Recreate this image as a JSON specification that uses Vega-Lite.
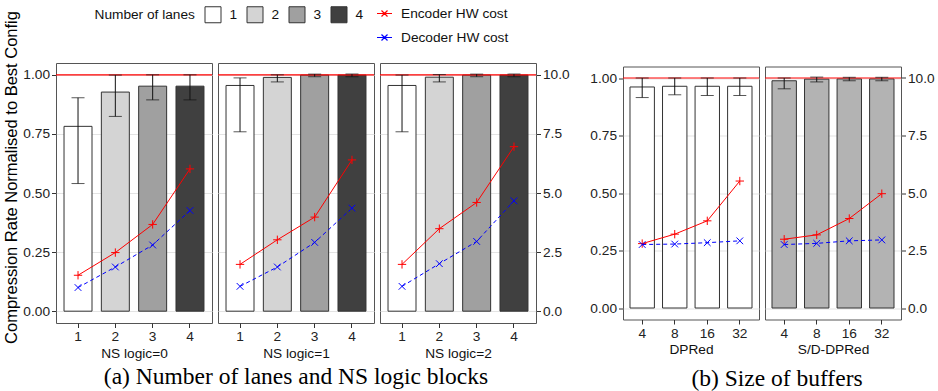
{
"$schema": "https://vega.github.io/schema/vega-lite/v6.json",
"padding": {"left": 3, "top": 5, "right": 0, "bottom": 0},
"bounds": "flush",
"center": true,
"spacing": 6,
"datasets": {
"bars": [
{"panel":"NS0","x":"1","rate":0.782,"lo":0.54,"hi":0.903},
{"panel":"NS0","x":"2","rate":0.927,"lo":0.824,"hi":0.999},
{"panel":"NS0","x":"3","rate":0.952,"lo":0.894,"hi":1.0},
{"panel":"NS0","x":"4","rate":0.952,"lo":0.894,"hi":1.0},
{"panel":"NS1","x":"1","rate":0.955,"lo":0.759,"hi":0.987},
{"panel":"NS1","x":"2","rate":0.989,"lo":0.97,"hi":1.0},
{"panel":"NS1","x":"3","rate":0.999,"lo":0.992,"hi":1.003},
{"panel":"NS1","x":"4","rate":0.999,"lo":0.992,"hi":1.003},
{"panel":"NS2","x":"1","rate":0.955,"lo":0.759,"hi":0.999},
{"panel":"NS2","x":"2","rate":0.99,"lo":0.97,"hi":1.001},
{"panel":"NS2","x":"3","rate":0.999,"lo":0.992,"hi":1.003},
{"panel":"NS2","x":"4","rate":0.999,"lo":0.992,"hi":1.003},
{"panel":"DPRed","x":"4","rate":0.961,"lo":0.915,"hi":1.0},
{"panel":"DPRed","x":"8","rate":0.964,"lo":0.927,"hi":1.0},
{"panel":"DPRed","x":"16","rate":0.964,"lo":0.924,"hi":1.0},
{"panel":"DPRed","x":"32","rate":0.964,"lo":0.924,"hi":1.0},
{"panel":"SD","x":"4","rate":0.988,"lo":0.953,"hi":1.0},
{"panel":"SD","x":"8","rate":0.995,"lo":0.983,"hi":1.004},
{"panel":"SD","x":"16","rate":0.996,"lo":0.988,"hi":1.003},
{"panel":"SD","x":"32","rate":0.996,"lo":0.988,"hi":1.003}
],
"cost": [
{"panel":"NS0","x":"1","series":"Encoder HW cost","cost":1.52},
{"panel":"NS0","x":"2","series":"Encoder HW cost","cost":2.48},
{"panel":"NS0","x":"3","series":"Encoder HW cost","cost":3.67},
{"panel":"NS0","x":"4","series":"Encoder HW cost","cost":6.02},
{"panel":"NS0","x":"1","series":"Decoder HW cost","cost":1.0},
{"panel":"NS0","x":"2","series":"Decoder HW cost","cost":1.87},
{"panel":"NS0","x":"3","series":"Decoder HW cost","cost":2.8},
{"panel":"NS0","x":"4","series":"Decoder HW cost","cost":4.26},
{"panel":"NS1","x":"1","series":"Encoder HW cost","cost":1.98},
{"panel":"NS1","x":"2","series":"Encoder HW cost","cost":3.02},
{"panel":"NS1","x":"3","series":"Encoder HW cost","cost":3.98},
{"panel":"NS1","x":"4","series":"Encoder HW cost","cost":6.4},
{"panel":"NS1","x":"1","series":"Decoder HW cost","cost":1.05},
{"panel":"NS1","x":"2","series":"Decoder HW cost","cost":1.87},
{"panel":"NS1","x":"3","series":"Decoder HW cost","cost":2.91},
{"panel":"NS1","x":"4","series":"Decoder HW cost","cost":4.36},
{"panel":"NS2","x":"1","series":"Encoder HW cost","cost":1.98},
{"panel":"NS2","x":"2","series":"Encoder HW cost","cost":3.49},
{"panel":"NS2","x":"3","series":"Encoder HW cost","cost":4.6},
{"panel":"NS2","x":"4","series":"Encoder HW cost","cost":6.96},
{"panel":"NS2","x":"1","series":"Decoder HW cost","cost":1.05},
{"panel":"NS2","x":"2","series":"Decoder HW cost","cost":2.01},
{"panel":"NS2","x":"3","series":"Decoder HW cost","cost":2.95},
{"panel":"NS2","x":"4","series":"Decoder HW cost","cost":4.67},
{"panel":"DPRed","x":"4","series":"Encoder HW cost","cost":2.8},
{"panel":"DPRed","x":"8","series":"Encoder HW cost","cost":3.21},
{"panel":"DPRed","x":"16","series":"Encoder HW cost","cost":3.79},
{"panel":"DPRed","x":"32","series":"Encoder HW cost","cost":5.52},
{"panel":"DPRed","x":"4","series":"Decoder HW cost","cost":2.76},
{"panel":"DPRed","x":"8","series":"Decoder HW cost","cost":2.78},
{"panel":"DPRed","x":"16","series":"Decoder HW cost","cost":2.84},
{"panel":"DPRed","x":"32","series":"Decoder HW cost","cost":2.92},
{"panel":"SD","x":"4","series":"Encoder HW cost","cost":2.99},
{"panel":"SD","x":"8","series":"Encoder HW cost","cost":3.18},
{"panel":"SD","x":"16","series":"Encoder HW cost","cost":3.89},
{"panel":"SD","x":"32","series":"Encoder HW cost","cost":4.97},
{"panel":"SD","x":"4","series":"Decoder HW cost","cost":2.76},
{"panel":"SD","x":"8","series":"Decoder HW cost","cost":2.81},
{"panel":"SD","x":"16","series":"Decoder HW cost","cost":2.92},
{"panel":"SD","x":"32","series":"Decoder HW cost","cost":2.96}
]
},
"hconcat": [
{
"width": 156, "height": 260,
"layer": [
{"layer": [
{"data": {"name": "bars"}, "transform": [{"filter": "datum.panel=='NS0'"}],
"mark": {"type": "bar", "stroke": "#333", "strokeWidth": 1},
"encoding": {
"x": {"field": "x", "type": "nominal", "scale": {"domain": ["1","2","3","4"], "paddingInner": 0.25, "paddingOuter": 0.215}, "axis": {"title": "NS logic=0", "labelAngle": 0, "titlePadding": 3}},
"y": {"field": "rate", "type": "quantitative", "scale": {"domain": [-0.05, 1.05], "nice": false, "zero": false},
"axis": {"orient": "left", "values": [0,0.125,0.25,0.375,0.5,0.625,0.75,0.875,1], "labelExpr": "(datum.value*4)%1==0 ? format(datum.value,'.2f') : ''", "grid": true, "gridColor": {"condition": {"test": "(datum.value*4)%1==0", "value": "#e3e3e3"}, "value": "#f1f1f1"}, "tickColor": {"condition": {"test": "(datum.value*4)%1==0", "value": "#333"}, "value": "transparent"}, "title": "Compression Rate Normalised to Best Config", "titleFontSize": 16.5, "titlePadding": 3, "titleY": 114, "titleColor": "#000"}},
"y2": {"datum": 0},
"fill": {"field": "x", "type": "nominal", "scale": {"domain": ["1","2","3","4"], "range": ["#ffffff","#d4d4d4","#a0a0a0","#404040"]},
"legend": {"title": "Number of lanes", "orient": "none", "legendX": 38.5, "legendY": -57, "direction": "horizontal", "titleOrient": "left", "titlePadding": 9, "symbolType": "square", "symbolSize": 256, "symbolStrokeColor": "#333", "symbolStrokeWidth": 1, "labelOffset": 8, "columnPadding": 7}}
}},
{"data": {"values": [{}]}, "mark": {"type": "rule", "color": "#ff0000", "strokeWidth": 1.2}, "encoding": {"y": {"datum": 1}}},
{"data": {"name": "bars"}, "transform": [{"filter": "datum.panel=='NS0'"}], "mark": {"type": "rule", "color": "#111", "strokeWidth": 1},
"encoding": {"x": {"field": "x", "type": "nominal", "scale": {"domain": ["1","2","3","4"]}}, "y": {"field": "lo", "type": "quantitative"}, "y2": {"field": "hi"}}},
{"data": {"name": "bars"}, "transform": [{"filter": "datum.panel=='NS0'"}], "mark": {"type": "tick", "size": 13, "thickness": 1, "color": "#111"},
"encoding": {"x": {"field": "x", "type": "nominal", "scale": {"domain": ["1","2","3","4"]}}, "y": {"field": "lo", "type": "quantitative"}}},
{"data": {"name": "bars"}, "transform": [{"filter": "datum.panel=='NS0'"}], "mark": {"type": "tick", "size": 13, "thickness": 1, "color": "#111"},
"encoding": {"x": {"field": "x", "type": "nominal", "scale": {"domain": ["1","2","3","4"]}}, "y": {"field": "hi", "type": "quantitative"}}}
]},
{"layer": [
{"data": {"name": "cost"}, "transform": [{"filter": "datum.panel=='NS0' && datum.series=='Encoder HW cost'"}], "mark": {"type": "line", "strokeWidth": 1},
"encoding": {"x": {"field": "x", "type": "nominal", "scale": {"domain": ["1","2","3","4"]}},
"y": {"field": "cost", "type": "quantitative", "scale": {"domain": [-0.5, 10.5], "nice": false, "zero": false}, "axis": null},
"color": {"field": "series", "type": "nominal", "scale": {"domain": ["Encoder HW cost","Decoder HW cost"], "range": ["#ff0000","#0000ff"]}, "legend": {"title": null, "orient": "none", "legendX": 320, "legendY": -58, "symbolType": "M-1,0L1,0M-0.4,-0.4L0.4,0.4M-0.4,0.4L0.4,-0.4", "symbolSize": 225, "symbolStrokeWidth": 1.2, "symbolOpacity": 1, "labelOffset": 8, "rowPadding": 8}},
"order": {"value": null}}},
{"data": {"name": "cost"}, "transform": [{"filter": "datum.panel=='NS0' && datum.series=='Decoder HW cost'"}], "mark": {"type": "line", "strokeWidth": 1, "strokeDash": [4,3]},
"encoding": {"x": {"field": "x", "type": "nominal", "scale": {"domain": ["1","2","3","4"]}},
"y": {"field": "cost", "type": "quantitative"},
"color": {"field": "series", "type": "nominal", "scale": {"domain": ["Encoder HW cost","Decoder HW cost"], "range": ["#ff0000","#0000ff"]}},
"order": {"value": null}}},
{"data": {"name": "cost"}, "transform": [{"filter": "datum.panel=='NS0' && datum.series=='Encoder HW cost'"}], "mark": {"type": "point", "filled": false, "size": 70, "strokeWidth": 1, "opacity": 1, "shape": "M-1,0L1,0M0,-1L0,1"},
"encoding": {"x": {"field": "x", "type": "nominal", "scale": {"domain": ["1","2","3","4"]}}, "y": {"field": "cost", "type": "quantitative"},
"color": {"field": "series", "type": "nominal", "scale": {"domain": ["Encoder HW cost","Decoder HW cost"], "range": ["#ff0000","#0000ff"]}}}},
{"data": {"name": "cost"}, "transform": [{"filter": "datum.panel=='NS0' && datum.series=='Decoder HW cost'"}], "mark": {"type": "point", "filled": false, "size": 70, "strokeWidth": 1, "opacity": 1, "shape": "M-0.8,-0.8L0.8,0.8M-0.8,0.8L0.8,-0.8"},
"encoding": {"x": {"field": "x", "type": "nominal", "scale": {"domain": ["1","2","3","4"]}}, "y": {"field": "cost", "type": "quantitative"},
"color": {"field": "series", "type": "nominal", "scale": {"domain": ["Encoder HW cost","Decoder HW cost"], "range": ["#ff0000","#0000ff"]}}}}
]}
],
"resolve": {"scale": {"y": "independent"}}
},
{
"width": 156, "height": 260,
"title": {"text": "(a) Number of lanes and NS logic blocks", "orient": "bottom", "frame": "group", "anchor": "middle", "font": "Liberation Serif", "fontSize": 23.5, "fontWeight": "normal", "color": "#000", "offset": 5},
"layer": [
{"layer": [
{"data": {"name": "bars"}, "transform": [{"filter": "datum.panel=='NS1'"}],
"mark": {"type": "bar", "stroke": "#333", "strokeWidth": 1},
"encoding": {
"x": {"field": "x", "type": "nominal", "scale": {"domain": ["1","2","3","4"], "paddingInner": 0.25, "paddingOuter": 0.215}, "axis": {"title": "NS logic=1", "labelAngle": 0, "titlePadding": 3}},
"y": {"field": "rate", "type": "quantitative", "scale": {"domain": [-0.05, 1.05], "nice": false, "zero": false},
"axis": {"orient": "left", "values": [0,0.125,0.25,0.375,0.5,0.625,0.75,0.875,1], "labels": false, "ticks": false, "grid": true, "gridColor": {"condition": {"test": "(datum.value*4)%1==0", "value": "#e3e3e3"}, "value": "#f1f1f1"}, "title": null}},
"y2": {"datum": 0},
"fill": {"field": "x", "type": "nominal", "scale": {"domain": ["1","2","3","4"], "range": ["#ffffff","#d4d4d4","#a0a0a0","#404040"]},
"legend": {"title": "Number of lanes", "orient": "none", "legendX": 38.5, "legendY": -57, "direction": "horizontal", "titleOrient": "left", "titlePadding": 9, "symbolType": "square", "symbolSize": 256, "symbolStrokeColor": "#333", "symbolStrokeWidth": 1, "labelOffset": 8, "columnPadding": 7}}
}},
{"data": {"values": [{}]}, "mark": {"type": "rule", "color": "#ff0000", "strokeWidth": 1.2}, "encoding": {"y": {"datum": 1}}},
{"data": {"name": "bars"}, "transform": [{"filter": "datum.panel=='NS1'"}], "mark": {"type": "rule", "color": "#111", "strokeWidth": 1},
"encoding": {"x": {"field": "x", "type": "nominal", "scale": {"domain": ["1","2","3","4"]}}, "y": {"field": "lo", "type": "quantitative"}, "y2": {"field": "hi"}}},
{"data": {"name": "bars"}, "transform": [{"filter": "datum.panel=='NS1'"}], "mark": {"type": "tick", "size": 13, "thickness": 1, "color": "#111"},
"encoding": {"x": {"field": "x", "type": "nominal", "scale": {"domain": ["1","2","3","4"]}}, "y": {"field": "lo", "type": "quantitative"}}},
{"data": {"name": "bars"}, "transform": [{"filter": "datum.panel=='NS1'"}], "mark": {"type": "tick", "size": 13, "thickness": 1, "color": "#111"},
"encoding": {"x": {"field": "x", "type": "nominal", "scale": {"domain": ["1","2","3","4"]}}, "y": {"field": "hi", "type": "quantitative"}}}
]},
{"layer": [
{"data": {"name": "cost"}, "transform": [{"filter": "datum.panel=='NS1' && datum.series=='Encoder HW cost'"}], "mark": {"type": "line", "strokeWidth": 1},
"encoding": {"x": {"field": "x", "type": "nominal", "scale": {"domain": ["1","2","3","4"]}},
"y": {"field": "cost", "type": "quantitative", "scale": {"domain": [-0.5, 10.5], "nice": false, "zero": false}, "axis": null},
"color": {"field": "series", "type": "nominal", "scale": {"domain": ["Encoder HW cost","Decoder HW cost"], "range": ["#ff0000","#0000ff"]}},
"order": {"value": null}}},
{"data": {"name": "cost"}, "transform": [{"filter": "datum.panel=='NS1' && datum.series=='Decoder HW cost'"}], "mark": {"type": "line", "strokeWidth": 1, "strokeDash": [4,3]},
"encoding": {"x": {"field": "x", "type": "nominal", "scale": {"domain": ["1","2","3","4"]}},
"y": {"field": "cost", "type": "quantitative"},
"color": {"field": "series", "type": "nominal", "scale": {"domain": ["Encoder HW cost","Decoder HW cost"], "range": ["#ff0000","#0000ff"]}},
"order": {"value": null}}},
{"data": {"name": "cost"}, "transform": [{"filter": "datum.panel=='NS1' && datum.series=='Encoder HW cost'"}], "mark": {"type": "point", "filled": false, "size": 70, "strokeWidth": 1, "opacity": 1, "shape": "M-1,0L1,0M0,-1L0,1"},
"encoding": {"x": {"field": "x", "type": "nominal", "scale": {"domain": ["1","2","3","4"]}}, "y": {"field": "cost", "type": "quantitative"},
"color": {"field": "series", "type": "nominal", "scale": {"domain": ["Encoder HW cost","Decoder HW cost"], "range": ["#ff0000","#0000ff"]}}}},
{"data": {"name": "cost"}, "transform": [{"filter": "datum.panel=='NS1' && datum.series=='Decoder HW cost'"}], "mark": {"type": "point", "filled": false, "size": 70, "strokeWidth": 1, "opacity": 1, "shape": "M-0.8,-0.8L0.8,0.8M-0.8,0.8L0.8,-0.8"},
"encoding": {"x": {"field": "x", "type": "nominal", "scale": {"domain": ["1","2","3","4"]}}, "y": {"field": "cost", "type": "quantitative"},
"color": {"field": "series", "type": "nominal", "scale": {"domain": ["Encoder HW cost","Decoder HW cost"], "range": ["#ff0000","#0000ff"]}}}}
]}
],
"resolve": {"scale": {"y": "independent"}}
},
{
"width": 156, "height": 260,
"layer": [
{"layer": [
{"data": {"name": "bars"}, "transform": [{"filter": "datum.panel=='NS2'"}],
"mark": {"type": "bar", "stroke": "#333", "strokeWidth": 1},
"encoding": {
"x": {"field": "x", "type": "nominal", "scale": {"domain": ["1","2","3","4"], "paddingInner": 0.25, "paddingOuter": 0.215}, "axis": {"title": "NS logic=2", "labelAngle": 0, "titlePadding": 3}},
"y": {"field": "rate", "type": "quantitative", "scale": {"domain": [-0.05, 1.05], "nice": false, "zero": false},
"axis": {"orient": "left", "values": [0,0.125,0.25,0.375,0.5,0.625,0.75,0.875,1], "labels": false, "ticks": false, "grid": true, "gridColor": {"condition": {"test": "(datum.value*4)%1==0", "value": "#e3e3e3"}, "value": "#f1f1f1"}, "title": null}},
"y2": {"datum": 0},
"fill": {"field": "x", "type": "nominal", "scale": {"domain": ["1","2","3","4"], "range": ["#ffffff","#d4d4d4","#a0a0a0","#404040"]},
"legend": {"title": "Number of lanes", "orient": "none", "legendX": 38.5, "legendY": -57, "direction": "horizontal", "titleOrient": "left", "titlePadding": 9, "symbolType": "square", "symbolSize": 256, "symbolStrokeColor": "#333", "symbolStrokeWidth": 1, "labelOffset": 8, "columnPadding": 7}}
}},
{"data": {"values": [{}]}, "mark": {"type": "rule", "color": "#ff0000", "strokeWidth": 1.2}, "encoding": {"y": {"datum": 1}}},
{"data": {"name": "bars"}, "transform": [{"filter": "datum.panel=='NS2'"}], "mark": {"type": "rule", "color": "#111", "strokeWidth": 1},
"encoding": {"x": {"field": "x", "type": "nominal", "scale": {"domain": ["1","2","3","4"]}}, "y": {"field": "lo", "type": "quantitative"}, "y2": {"field": "hi"}}},
{"data": {"name": "bars"}, "transform": [{"filter": "datum.panel=='NS2'"}], "mark": {"type": "tick", "size": 13, "thickness": 1, "color": "#111"},
"encoding": {"x": {"field": "x", "type": "nominal", "scale": {"domain": ["1","2","3","4"]}}, "y": {"field": "lo", "type": "quantitative"}}},
{"data": {"name": "bars"}, "transform": [{"filter": "datum.panel=='NS2'"}], "mark": {"type": "tick", "size": 13, "thickness": 1, "color": "#111"},
"encoding": {"x": {"field": "x", "type": "nominal", "scale": {"domain": ["1","2","3","4"]}}, "y": {"field": "hi", "type": "quantitative"}}}
]},
{"layer": [
{"data": {"name": "cost"}, "transform": [{"filter": "datum.panel=='NS2' && datum.series=='Encoder HW cost'"}], "mark": {"type": "line", "strokeWidth": 1},
"encoding": {"x": {"field": "x", "type": "nominal", "scale": {"domain": ["1","2","3","4"]}},
"y": {"field": "cost", "type": "quantitative", "scale": {"domain": [-0.5, 10.5], "nice": false, "zero": false}, "axis": {"orient": "right", "values": [0, 2.5, 5, 7.5, 10], "format": ".1f", "title": null, "grid": false}},
"color": {"field": "series", "type": "nominal", "scale": {"domain": ["Encoder HW cost","Decoder HW cost"], "range": ["#ff0000","#0000ff"]}},
"order": {"value": null}}},
{"data": {"name": "cost"}, "transform": [{"filter": "datum.panel=='NS2' && datum.series=='Decoder HW cost'"}], "mark": {"type": "line", "strokeWidth": 1, "strokeDash": [4,3]},
"encoding": {"x": {"field": "x", "type": "nominal", "scale": {"domain": ["1","2","3","4"]}},
"y": {"field": "cost", "type": "quantitative"},
"color": {"field": "series", "type": "nominal", "scale": {"domain": ["Encoder HW cost","Decoder HW cost"], "range": ["#ff0000","#0000ff"]}},
"order": {"value": null}}},
{"data": {"name": "cost"}, "transform": [{"filter": "datum.panel=='NS2' && datum.series=='Encoder HW cost'"}], "mark": {"type": "point", "filled": false, "size": 70, "strokeWidth": 1, "opacity": 1, "shape": "M-1,0L1,0M0,-1L0,1"},
"encoding": {"x": {"field": "x", "type": "nominal", "scale": {"domain": ["1","2","3","4"]}}, "y": {"field": "cost", "type": "quantitative"},
"color": {"field": "series", "type": "nominal", "scale": {"domain": ["Encoder HW cost","Decoder HW cost"], "range": ["#ff0000","#0000ff"]}}}},
{"data": {"name": "cost"}, "transform": [{"filter": "datum.panel=='NS2' && datum.series=='Decoder HW cost'"}], "mark": {"type": "point", "filled": false, "size": 70, "strokeWidth": 1, "opacity": 1, "shape": "M-0.8,-0.8L0.8,0.8M-0.8,0.8L0.8,-0.8"},
"encoding": {"x": {"field": "x", "type": "nominal", "scale": {"domain": ["1","2","3","4"]}}, "y": {"field": "cost", "type": "quantitative"},
"color": {"field": "series", "type": "nominal", "scale": {"domain": ["Encoder HW cost","Decoder HW cost"], "range": ["#ff0000","#0000ff"]}}}}
]}
],
"resolve": {"scale": {"y": "independent"}}
},
{
"width": 75, "height": 260,
"view": {"stroke": null},
"data": {"values": [{}]},
"mark": {"type": "text"},
"encoding": {"text": {"value": ""}}
},
{
"width": 136, "height": 253,
"layer": [
{"layer": [
{"data": {"name": "bars"}, "transform": [{"filter": "datum.panel=='DPRed'"}],
"mark": {"type": "bar", "stroke": "#333", "strokeWidth": 1, "fill": "#ffffff"},
"encoding": {
"x": {"field": "x", "type": "nominal", "scale": {"domain": ["4","8","16","32"], "paddingInner": 0.25, "paddingOuter": 0.215}, "axis": {"title": "DPRed", "labelAngle": 0, "titlePadding": 3}},
"y": {"field": "rate", "type": "quantitative", "scale": {"domain": [-0.05, 1.05], "nice": false, "zero": false},
"axis": {"orient": "left", "values": [0,0.125,0.25,0.375,0.5,0.625,0.75,0.875,1], "labelExpr": "(datum.value*4)%1==0 ? format(datum.value,'.2f') : ''", "grid": true, "gridColor": {"condition": {"test": "(datum.value*4)%1==0", "value": "#e3e3e3"}, "value": "#f1f1f1"}, "tickColor": {"condition": {"test": "(datum.value*4)%1==0", "value": "#333"}, "value": "transparent"}, "title": null}},
"y2": {"datum": 0}
}},
{"data": {"values": [{}]}, "mark": {"type": "rule", "color": "#ff0000", "strokeWidth": 1.2}, "encoding": {"y": {"datum": 1}}},
{"data": {"name": "bars"}, "transform": [{"filter": "datum.panel=='DPRed'"}], "mark": {"type": "rule", "color": "#111", "strokeWidth": 1},
"encoding": {"x": {"field": "x", "type": "nominal", "scale": {"domain": ["4","8","16","32"]}}, "y": {"field": "lo", "type": "quantitative"}, "y2": {"field": "hi"}}},
{"data": {"name": "bars"}, "transform": [{"filter": "datum.panel=='DPRed'"}], "mark": {"type": "tick", "size": 13, "thickness": 1, "color": "#111"},
"encoding": {"x": {"field": "x", "type": "nominal", "scale": {"domain": ["4","8","16","32"]}}, "y": {"field": "lo", "type": "quantitative"}}},
{"data": {"name": "bars"}, "transform": [{"filter": "datum.panel=='DPRed'"}], "mark": {"type": "tick", "size": 13, "thickness": 1, "color": "#111"},
"encoding": {"x": {"field": "x", "type": "nominal", "scale": {"domain": ["4","8","16","32"]}}, "y": {"field": "hi", "type": "quantitative"}}}
]},
{"layer": [
{"data": {"name": "cost"}, "transform": [{"filter": "datum.panel=='DPRed' && datum.series=='Encoder HW cost'"}], "mark": {"type": "line", "strokeWidth": 1},
"encoding": {"x": {"field": "x", "type": "nominal", "scale": {"domain": ["4","8","16","32"]}},
"y": {"field": "cost", "type": "quantitative", "scale": {"domain": [-0.5, 10.5], "nice": false, "zero": false}, "axis": null},
"color": {"field": "series", "type": "nominal", "scale": {"domain": ["Encoder HW cost","Decoder HW cost"], "range": ["#ff0000","#0000ff"]}},
"order": {"value": null}}},
{"data": {"name": "cost"}, "transform": [{"filter": "datum.panel=='DPRed' && datum.series=='Decoder HW cost'"}], "mark": {"type": "line", "strokeWidth": 1, "strokeDash": [4,3]},
"encoding": {"x": {"field": "x", "type": "nominal", "scale": {"domain": ["4","8","16","32"]}},
"y": {"field": "cost", "type": "quantitative"},
"color": {"field": "series", "type": "nominal", "scale": {"domain": ["Encoder HW cost","Decoder HW cost"], "range": ["#ff0000","#0000ff"]}},
"order": {"value": null}}},
{"data": {"name": "cost"}, "transform": [{"filter": "datum.panel=='DPRed' && datum.series=='Encoder HW cost'"}], "mark": {"type": "point", "filled": false, "size": 70, "strokeWidth": 1, "opacity": 1, "shape": "M-1,0L1,0M0,-1L0,1"},
"encoding": {"x": {"field": "x", "type": "nominal", "scale": {"domain": ["4","8","16","32"]}}, "y": {"field": "cost", "type": "quantitative"},
"color": {"field": "series", "type": "nominal", "scale": {"domain": ["Encoder HW cost","Decoder HW cost"], "range": ["#ff0000","#0000ff"]}}}},
{"data": {"name": "cost"}, "transform": [{"filter": "datum.panel=='DPRed' && datum.series=='Decoder HW cost'"}], "mark": {"type": "point", "filled": false, "size": 70, "strokeWidth": 1, "opacity": 1, "shape": "M-0.8,-0.8L0.8,0.8M-0.8,0.8L0.8,-0.8"},
"encoding": {"x": {"field": "x", "type": "nominal", "scale": {"domain": ["4","8","16","32"]}}, "y": {"field": "cost", "type": "quantitative"},
"color": {"field": "series", "type": "nominal", "scale": {"domain": ["Encoder HW cost","Decoder HW cost"], "range": ["#ff0000","#0000ff"]}}}}
]}
],
"resolve": {"scale": {"y": "independent"}}
},
{
"width": 136, "height": 253,
"title": {"text": "(b) Size of buffers", "orient": "bottom", "frame": "group", "anchor": "middle", "font": "Liberation Serif", "fontSize": 23.5, "fontWeight": "normal", "color": "#000", "offset": 11, "dx": -56},
"layer": [
{"layer": [
{"data": {"name": "bars"}, "transform": [{"filter": "datum.panel=='SD'"}],
"mark": {"type": "bar", "stroke": "#333", "strokeWidth": 1, "fill": "#b3b3b3"},
"encoding": {
"x": {"field": "x", "type": "nominal", "scale": {"domain": ["4","8","16","32"], "paddingInner": 0.25, "paddingOuter": 0.215}, "axis": {"title": "S/D-DPRed", "labelAngle": 0, "titlePadding": 3}},
"y": {"field": "rate", "type": "quantitative", "scale": {"domain": [-0.05, 1.05], "nice": false, "zero": false},
"axis": {"orient": "left", "values": [0,0.125,0.25,0.375,0.5,0.625,0.75,0.875,1], "labels": false, "ticks": false, "grid": true, "gridColor": {"condition": {"test": "(datum.value*4)%1==0", "value": "#e3e3e3"}, "value": "#f1f1f1"}, "title": null}},
"y2": {"datum": 0}
}},
{"data": {"values": [{}]}, "mark": {"type": "rule", "color": "#ff0000", "strokeWidth": 1.2}, "encoding": {"y": {"datum": 1}}},
{"data": {"name": "bars"}, "transform": [{"filter": "datum.panel=='SD'"}], "mark": {"type": "rule", "color": "#111", "strokeWidth": 1},
"encoding": {"x": {"field": "x", "type": "nominal", "scale": {"domain": ["4","8","16","32"]}}, "y": {"field": "lo", "type": "quantitative"}, "y2": {"field": "hi"}}},
{"data": {"name": "bars"}, "transform": [{"filter": "datum.panel=='SD'"}], "mark": {"type": "tick", "size": 13, "thickness": 1, "color": "#111"},
"encoding": {"x": {"field": "x", "type": "nominal", "scale": {"domain": ["4","8","16","32"]}}, "y": {"field": "lo", "type": "quantitative"}}},
{"data": {"name": "bars"}, "transform": [{"filter": "datum.panel=='SD'"}], "mark": {"type": "tick", "size": 13, "thickness": 1, "color": "#111"},
"encoding": {"x": {"field": "x", "type": "nominal", "scale": {"domain": ["4","8","16","32"]}}, "y": {"field": "hi", "type": "quantitative"}}}
]},
{"layer": [
{"data": {"name": "cost"}, "transform": [{"filter": "datum.panel=='SD' && datum.series=='Encoder HW cost'"}], "mark": {"type": "line", "strokeWidth": 1},
"encoding": {"x": {"field": "x", "type": "nominal", "scale": {"domain": ["4","8","16","32"]}},
"y": {"field": "cost", "type": "quantitative", "scale": {"domain": [-0.5, 10.5], "nice": false, "zero": false}, "axis": {"orient": "right", "values": [0, 2.5, 5, 7.5, 10], "format": ".1f", "title": null, "grid": false}},
"color": {"field": "series", "type": "nominal", "scale": {"domain": ["Encoder HW cost","Decoder HW cost"], "range": ["#ff0000","#0000ff"]}},
"order": {"value": null}}},
{"data": {"name": "cost"}, "transform": [{"filter": "datum.panel=='SD' && datum.series=='Decoder HW cost'"}], "mark": {"type": "line", "strokeWidth": 1, "strokeDash": [4,3]},
"encoding": {"x": {"field": "x", "type": "nominal", "scale": {"domain": ["4","8","16","32"]}},
"y": {"field": "cost", "type": "quantitative"},
"color": {"field": "series", "type": "nominal", "scale": {"domain": ["Encoder HW cost","Decoder HW cost"], "range": ["#ff0000","#0000ff"]}},
"order": {"value": null}}},
{"data": {"name": "cost"}, "transform": [{"filter": "datum.panel=='SD' && datum.series=='Encoder HW cost'"}], "mark": {"type": "point", "filled": false, "size": 70, "strokeWidth": 1, "opacity": 1, "shape": "M-1,0L1,0M0,-1L0,1"},
"encoding": {"x": {"field": "x", "type": "nominal", "scale": {"domain": ["4","8","16","32"]}}, "y": {"field": "cost", "type": "quantitative"},
"color": {"field": "series", "type": "nominal", "scale": {"domain": ["Encoder HW cost","Decoder HW cost"], "range": ["#ff0000","#0000ff"]}}}},
{"data": {"name": "cost"}, "transform": [{"filter": "datum.panel=='SD' && datum.series=='Decoder HW cost'"}], "mark": {"type": "point", "filled": false, "size": 70, "strokeWidth": 1, "opacity": 1, "shape": "M-0.8,-0.8L0.8,0.8M-0.8,0.8L0.8,-0.8"},
"encoding": {"x": {"field": "x", "type": "nominal", "scale": {"domain": ["4","8","16","32"]}}, "y": {"field": "cost", "type": "quantitative"},
"color": {"field": "series", "type": "nominal", "scale": {"domain": ["Encoder HW cost","Decoder HW cost"], "range": ["#ff0000","#0000ff"]}}}}
]}
],
"resolve": {"scale": {"y": "independent"}}
}
],
"config": {
"font": "Liberation Sans",
"view": {"stroke": "#555", "strokeWidth": 1},
"axis": {"labelFontSize": 13.7, "labelColor": "#222", "titleFontSize": 13.7, "titleFontWeight": "normal", "titleColor": "#111", "tickColor": "#333", "tickSize": 4.5, "labelPadding": 2, "domain": false, "grid": false},
"legend": {"labelFontSize": 13.7, "titleFontSize": 13.7, "titleFontWeight": "normal", "labelColor": "#111", "titleColor": "#111"}
}
}
